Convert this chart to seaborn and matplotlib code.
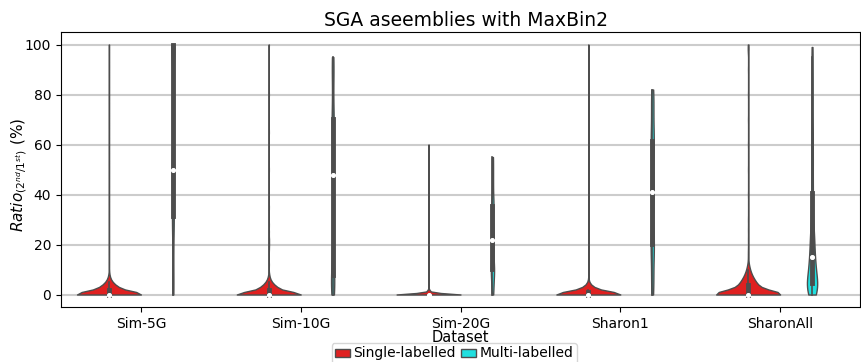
import numpy as np
import pandas as pd
import matplotlib
matplotlib.use("Agg")
import matplotlib.pyplot as plt
import seaborn as sns

datasets = ["Sim-5G", "Sim-10G", "Sim-20G", "Sharon1", "SharonAll"]
hue_levels = ["Single-labelled", "Multi-labelled"]

# Single-labelled ratios (value / frequency)
single_vals_sim5g = [0, 1, 2, 3, 4, 5, 6, 7, 8, 10, 20, 30, 40, 50, 60, 70, 80, 90, 100]
single_cnts_sim5g = [220, 55, 44, 30, 19, 11, 6, 3, 2, 1, 1, 1, 1, 1, 1, 1, 1, 1, 1]
single_vals_sim10g = [0, 1, 2, 3, 4, 5, 6, 7, 8, 12, 18, 20, 22, 25, 28, 35, 50, 65, 80, 100]
single_cnts_sim10g = [217, 55, 44, 30, 19, 11, 6, 3, 2, 1, 1, 2, 2, 1, 1, 1, 1, 1, 1, 1]
single_vals_sim20g = [0, 0.5, 1, 1.5, 2, 3, 5, 10, 20, 35, 60]
single_cnts_sim20g = [341, 25, 15, 8, 4, 2, 1, 1, 1, 1, 1]
single_vals_sharon1 = [0, 1, 2, 3, 4, 5, 6, 10, 20, 40, 60, 70, 80, 90, 100]
single_cnts_sharon1 = [260, 60, 40, 20, 8, 3, 1, 1, 1, 1, 1, 1, 1, 1, 1]
single_vals_sharonall = [0, 1, 2, 3, 4, 5, 6, 7, 8, 9, 10, 11, 12, 14, 16, 18,
                         22, 26, 30, 40, 50, 60, 70, 80, 90, 97, 98, 99, 100]
single_cnts_sharonall = [205, 33, 32, 26, 22, 18, 14, 11, 8, 6, 4, 3, 2, 1, 1, 1,
                         1, 1, 1, 1, 1, 1, 1, 1, 1, 1, 1, 1, 1]

# Multi-labelled ratios
multi_sim5g = [0, 5, 15, 25, 30, 32, 38, 45, 50, 50, 50, 60, 70, 85, 100, 100, 100, 100, 100, 100]
multi_sim10g = [0, 2, 4, 6, 7, 8, 15, 25, 35, 45, 51, 55, 62, 66, 70, 71, 80, 88, 92, 95]
multi_sim20g = [0, 3, 6, 8, 10, 10.5, 13, 16, 19, 21, 23, 25, 28, 31, 35, 36, 40, 45, 50, 55]
multi_sharon1 = [0, 5, 10, 15, 19, 20.5, 25, 30, 35, 40, 42, 47, 52, 57, 61, 63, 68, 73, 78, 82]
multi_sharonall = [0, 0, 0.5, 1, 1, 1.5, 2, 2, 2.5, 3, 3, 3.5, 3.5, 4, 4, 4.2,
                   4.6, 5, 6, 6.5, 7, 8, 8.5, 9, 10, 10.5, 11, 12, 12.5, 13, 14, 15,
                   15.4, 16, 18, 19, 20, 21, 22, 23, 24, 25, 27, 29, 31, 34, 37, 40,
                   43, 46, 50, 53, 56, 60, 63, 66, 70, 74, 78, 82, 86, 90, 95, 99]

single = {
    "Sim-5G": (single_vals_sim5g, single_cnts_sim5g),
    "Sim-10G": (single_vals_sim10g, single_cnts_sim10g),
    "Sim-20G": (single_vals_sim20g, single_cnts_sim20g),
    "Sharon1": (single_vals_sharon1, single_cnts_sharon1),
    "SharonAll": (single_vals_sharonall, single_cnts_sharonall),
}
multi = {
    "Sim-5G": multi_sim5g,
    "Sim-10G": multi_sim10g,
    "Sim-20G": multi_sim20g,
    "Sharon1": multi_sharon1,
    "SharonAll": multi_sharonall,
}

rows = []
for d in datasets:
    v, c = single[d]
    for val in np.repeat(v, c):
        rows.append((d, "Single-labelled", float(val)))
    for val in multi[d]:
        rows.append((d, "Multi-labelled", float(val)))
df = pd.DataFrame(rows, columns=["Dataset", "Type", "Ratio"])

fig = plt.figure(figsize=(8.61, 3.62), dpi=100)
ax = fig.add_axes([61 / 861, 1 - 307 / 362, 799 / 861, 275 / 362])

sns.violinplot(data=df, x="Dataset", y="Ratio", hue="Type", order=datasets,
               hue_order=hue_levels, palette={"Single-labelled": "red", "Multi-labelled": "cyan"},
               cut=0, density_norm="count", common_norm=True, bw_adjust=0.35,
               inner="box", inner_kws=dict(box_width=3.5, whis_width=1.2, marker="o"),
               linewidth=1.0, saturation=0.75, ax=ax)

ax.set_axisbelow(True)
ax.yaxis.grid(True, color="#cccccc", linewidth=1.5)
ax.set_yticks([0, 20, 40, 60, 80, 100])
ax.tick_params(labelsize=10)
ax.set_title("SGA aseemblies with MaxBin2", fontsize=13.5, pad=4, x=0.507)
ax.set_xlabel("Dataset", fontsize=10.5)
ax.xaxis.set_label_coords(0.5, -0.082)
ax.set_ylabel(r"$Ratio_{(2^{nd}/1^{st})}$ (%)", fontsize=11)
ax.yaxis.set_label_coords(-0.04, 0.48)

sns.move_legend(ax, "upper center", bbox_to_anchor=(0.492, -0.131), ncol=2,
                title=None, frameon=True, fontsize=10, borderaxespad=0,
                handlelength=1.1, handleheight=0.5, handletextpad=0.2,
                columnspacing=0.4, borderpad=0.25)

fig.savefig("out.png", dpi=100)
